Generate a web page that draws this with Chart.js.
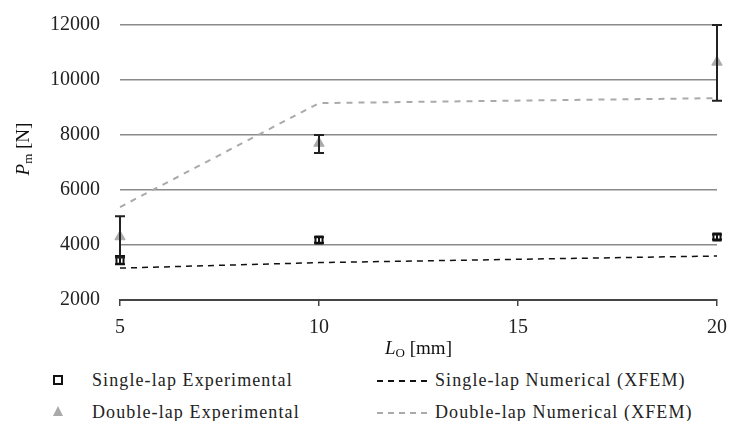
<!DOCTYPE html>
<html>
<head>
<meta charset="utf-8">
<script src="https://cdn.jsdelivr.net/npm/chart.js@4"></script>
<style>
  html, body { margin: 0; padding: 0; background: #fff; }
  #wrap { position: relative; width: 729px; height: 421px; }
  #chartBox { position: absolute; left: 0; top: 0; width: 729px; height: 362px; }
  .leg { position: absolute; font-family: "Liberation Serif", serif; font-size: 18px; letter-spacing: 1.1px; line-height: 22px; color: #222; white-space: nowrap; }
  .sq { position: absolute; width: 6px; height: 6px; border: 2px solid #111; background: #fff; }
  .tri { position: absolute; width: 0; height: 0; border-left: 5px solid transparent; border-right: 5px solid transparent; border-bottom: 10px solid #aaa; }
  .dash { position: absolute; width: 50px; height: 0; }
</style>
</head>
<body>
<div id="wrap">
  <div id="chartBox"><canvas id="pmChart"></canvas></div>
  <div class="sq" style="left:53px; top:375px;"></div>
  <div class="leg" style="left:92px; top:369px;">Single-lap Experimental</div>
  <div class="tri" style="left:53px; top:406px;"></div>
  <div class="leg" style="left:92px; top:401px;">Double-lap Experimental</div>
  <div class="dash" style="left:377px; top:380px; border-top: 2px dashed #111;"></div>
  <div class="leg" style="left:435px; top:369px;">Single-lap Numerical (XFEM)</div>
  <div class="dash" style="left:377px; top:412px; border-top: 2px dashed #aaa;"></div>
  <div class="leg" style="left:435px; top:401px;">Double-lap Numerical (XFEM)</div>
</div>
<script>
// overlap lengths L_O [mm]
const overlapLengths = [5, 10, 20];

// experimental mean and error bars [N]
const singleExp = [3450, 4180, 4290];
const singleErrLow = [3300, 4080, 4200];
const singleErrHigh = [3600, 4280, 4380];

const doubleExp = [4300, 7700, 10650];
const doubleErrLow = [3550, 7350, 9250];
const doubleErrHigh = [5050, 8000, 12000];

// XFEM numerical [N]
const singleNum = [3160, 3360, 3600];
const doubleNum = [5380, 9160, 9340];

const yTicks = [2000, 4000, 6000, 8000, 10000, 12000];
const xTicks = [5, 10, 15, 20];

function pts(ys) {
    return overlapLengths.map((x, i) => ({ x: x, y: ys[i] }));
}

const serif = '"Liberation Serif", "Times New Roman", serif';

// error bars drawn through the scales
const errorBars = {
    id: 'errorBars',
    afterDatasetsDraw(chart) {
        const ctx = chart.ctx;
        const xs = chart.scales.x, ys = chart.scales.y;
        const sets = [
            { lo: singleErrLow, hi: singleErrHigh, color: '#111' },
            { lo: doubleErrLow, hi: doubleErrHigh, color: '#222' }
        ];
        ctx.save();
        sets.forEach(s => {
            overlapLengths.forEach((x, i) => {
                const px = xs.getPixelForValue(x);
                const y1 = ys.getPixelForValue(s.lo[i]);
                const y2 = ys.getPixelForValue(s.hi[i]);
                ctx.strokeStyle = s.color;
                ctx.lineWidth = 2;
                ctx.beginPath();
                ctx.moveTo(px, y1); ctx.lineTo(px, y2);
                ctx.moveTo(px - 5, y1); ctx.lineTo(px + 5, y1);
                ctx.moveTo(px - 5, y2); ctx.lineTo(px + 5, y2);
                ctx.stroke();
            });
        });
        ctx.restore();
    }
};

// axis titles with italic symbol and subscript
const axisTitles = {
    id: 'axisTitles',
    afterDraw(chart) {
        const ctx = chart.ctx;
        const area = chart.chartArea;
        function drawSub(sym, sub, rest, cx, cy) {
            ctx.font = 'italic 19px ' + serif;
            const w1 = ctx.measureText(sym).width;
            ctx.font = '13px ' + serif;
            const w2 = ctx.measureText(sub).width;
            ctx.font = '19px ' + serif;
            const w3 = ctx.measureText(rest).width;
            let x = cx - (w1 + w2 + w3) / 2;
            ctx.textBaseline = 'middle';
            ctx.textAlign = 'left';
            ctx.fillStyle = '#111';
            ctx.font = 'italic 19px ' + serif;
            ctx.fillText(sym, x, cy); x += w1;
            ctx.font = '13px ' + serif;
            ctx.fillText(sub, x, cy + 5); x += w2;
            ctx.font = '19px ' + serif;
            ctx.fillText(rest, x, cy);
        }
        ctx.save();
        drawSub('L', 'O', ' [mm]', (area.left + area.right) / 2, 349);
        ctx.restore();
        ctx.save();
        ctx.translate(24, 149);
        ctx.rotate(-Math.PI / 2);
        drawSub('P', 'm', ' [N]', 0, 0);
        ctx.restore();
    }
};

new Chart(document.getElementById('pmChart'), {
    type: 'scatter',
    data: {
        datasets: [
            {
                label: 'Single-lap Numerical (XFEM)',
                data: pts(singleNum),
                showLine: true,
                borderColor: '#111',
                borderWidth: 1.5,
                borderDash: [6, 5],
                pointRadius: 0,
                fill: false,
                clip: false
            },
            {
                label: 'Double-lap Numerical (XFEM)',
                data: pts(doubleNum),
                showLine: true,
                borderColor: '#aaa',
                borderWidth: 2,
                borderDash: [6, 6],
                pointRadius: 0,
                fill: false,
                clip: false
            },
            {
                label: 'Double-lap Experimental',
                data: pts(doubleExp),
                pointStyle: 'triangle',
                pointRadius: 6,
                backgroundColor: '#aaa',
                borderColor: '#aaa',
                borderWidth: 1,
                clip: false
            },
            {
                label: 'Single-lap Experimental',
                data: pts(singleExp),
                pointStyle: 'rect',
                pointRadius: 5,
                backgroundColor: '#fff',
                borderColor: '#111',
                borderWidth: 2,
                clip: false
            }
        ]
    },
    options: {
        responsive: true,
        maintainAspectRatio: false,
        animation: false,
        layout: { padding: { top: 25, right: 12, left: 0, bottom: 0 } },
        plugins: {
            legend: { display: false },
            tooltip: { enabled: false }
        },
        scales: {
            x: {
                type: 'linear',
                min: 5,
                max: 20,
                afterBuildTicks: s => { s.ticks = xTicks.map(v => ({ value: v })); },
                afterFit: s => { s.height = 62; s.paddingLeft = 0; s.paddingRight = 0; },
                grid: { drawOnChartArea: false, drawTicks: true, tickLength: 6, color: '#444', lineWidth: 1.5 },
                border: { display: true, color: '#444', width: 2 },
                ticks: { color: '#222', padding: 10, font: { family: serif, size: 20 }, callback: v => String(v) }
            },
            y: {
                min: 2000,
                max: 12000,
                afterBuildTicks: s => { s.ticks = yTicks.map(v => ({ value: v })); },
                afterFit: s => { s.width = 120; s.paddingTop = 0; s.paddingBottom = 0; },
                grid: { drawTicks: false, color: '#8a8a8a', lineWidth: 1.5 },
                border: { display: false },
                ticks: { color: '#222', padding: 20, font: { family: serif, size: 20 }, callback: v => String(v) }
            }
        }
    },
    plugins: [errorBars, axisTitles]
});
</script>
</body>
</html>
